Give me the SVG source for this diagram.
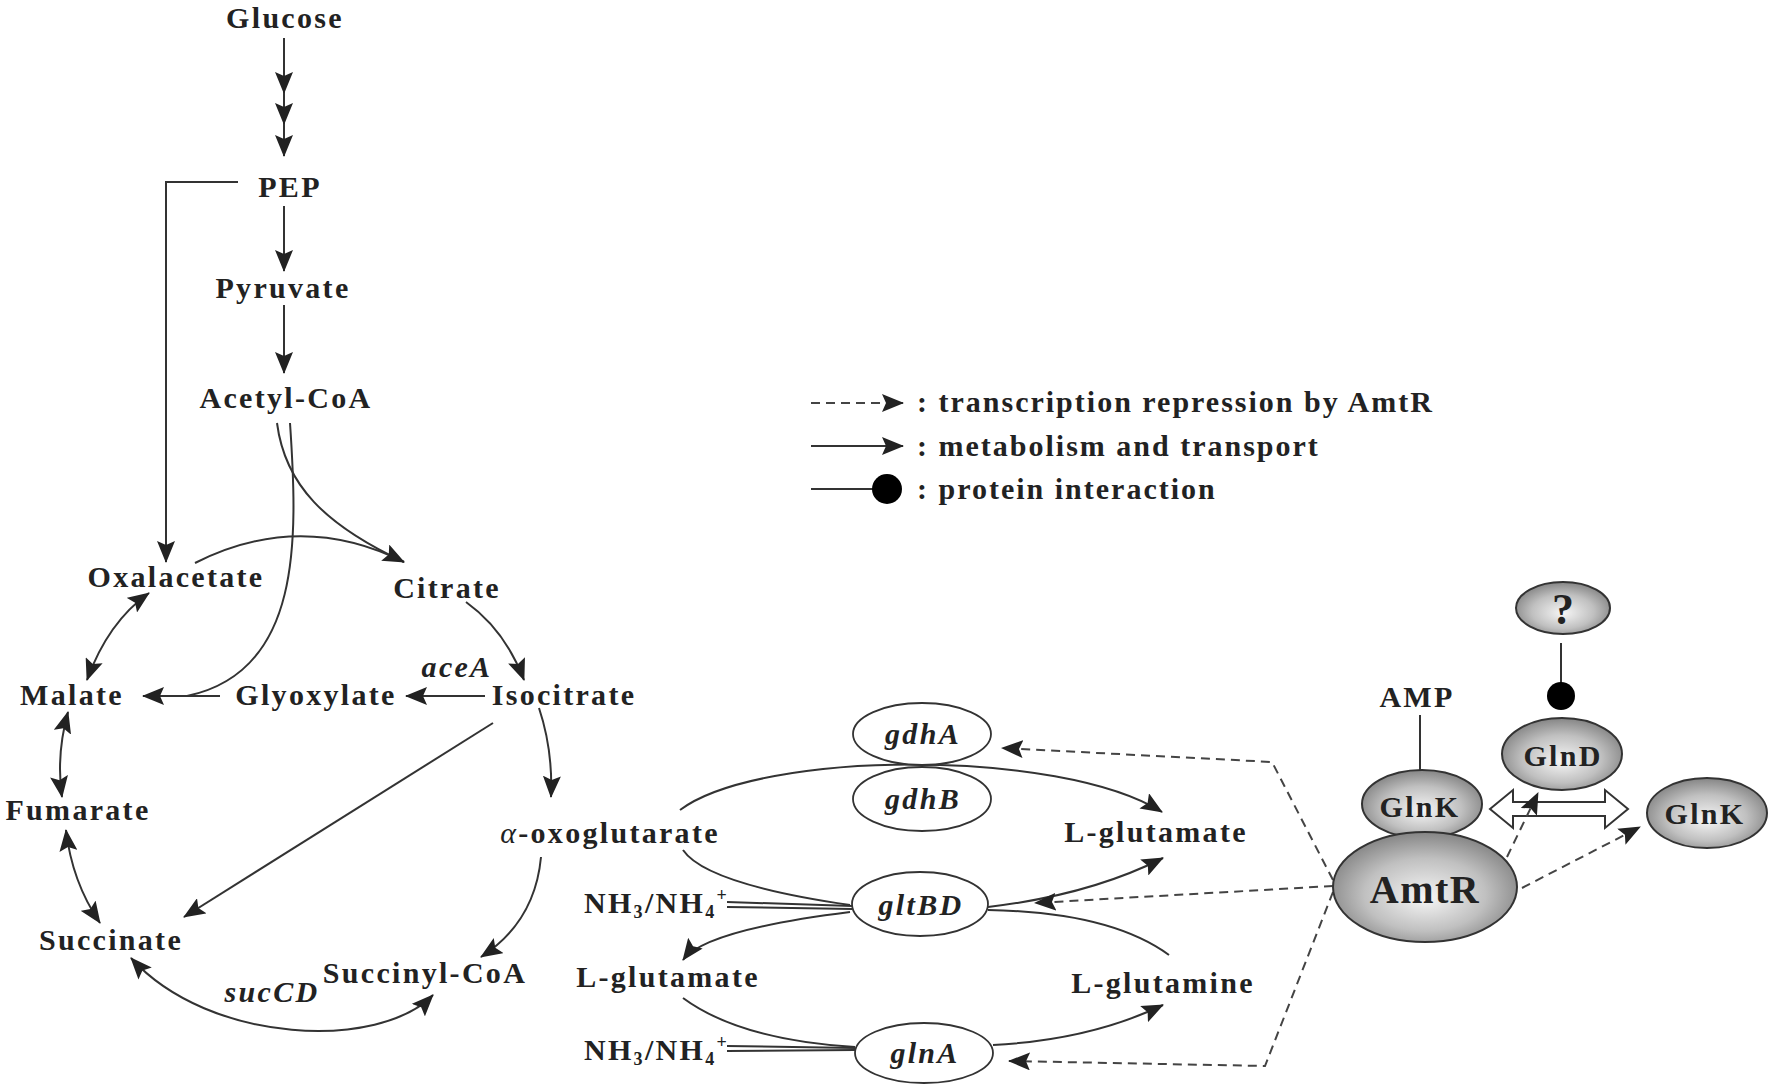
<svg xmlns="http://www.w3.org/2000/svg" width="1770" height="1090" viewBox="0 0 1770 1090">
<style>
.t{font-family:"Liberation Serif","Times New Roman",serif;font-weight:bold;font-size:30px;fill:#222;letter-spacing:2.3px;text-anchor:middle}
.i{font-style:italic}
.lg{font-family:"Liberation Serif","Times New Roman",serif;font-weight:bold;font-size:30px;fill:#222;letter-spacing:2px}
.c{fill:none;stroke:#333;stroke-width:2}
.a{marker-end:url(#ah)}
.b{marker-start:url(#ah);marker-end:url(#ah)}
.d{fill:none;stroke:#444;stroke-width:2;stroke-dasharray:9 6;marker-end:url(#ah)}
.g{fill:#fff;stroke:#333;stroke-width:1.8}
.p{fill:url(#pg);stroke:#333;stroke-width:2}
</style>
<defs>
<marker id="ah" viewBox="0 0 22 18" refX="21" refY="9" markerWidth="22" markerHeight="18" orient="auto-start-reverse" markerUnits="userSpaceOnUse">
<path d="M0,0 L22,9 L0,18 L4,9 z" fill="#222"/>
</marker>
<radialGradient id="pg" cx="50%" cy="55%" r="55%" fx="50%" fy="60%">
<stop offset="0" stop-color="#f6f6f6"/>
<stop offset="0.6" stop-color="#c0c0c0"/>
<stop offset="1" stop-color="#858585"/>
</radialGradient>
</defs>
<rect width="1770" height="1090" fill="#fff"/>

<g id="connectors">
<line class="c a" x1="284" y1="38" x2="284" y2="93"/>
<line class="c a" x1="284" y1="93" x2="284" y2="124"/>
<line class="c a" x1="284" y1="124" x2="284" y2="156"/>
<line class="c a" x1="284" y1="206" x2="284" y2="271"/>
<line class="c a" x1="284" y1="305" x2="284" y2="373"/>
<polyline class="c a" points="238,182 166,182 166,562"/>
<path class="c" d="M277 423 C285 485,325 525,404 562"/>
<path class="c a" d="M195 563 Q300 510 404 562"/>
<path class="c" d="M290 423 C298 540,302 672,187 696"/>
<line class="c a" x1="220" y1="696" x2="143" y2="696"/>
<line class="c a" x1="485" y1="696" x2="406" y2="696"/>
<path class="c a" d="M466 602 Q505 630 524 680"/>
<path class="c b" d="M149 593 Q108 622 87 680"/>
<path class="c b" d="M68 712 Q56 755 62 797"/>
<path class="c b" d="M66 830 Q72 882 100 923"/>
<line class="c a" x1="493" y1="723" x2="184" y2="917"/>
<path class="c a" d="M539 708 Q553 750 551 797"/>
<path class="c a" d="M541 857 Q535 922 481 957"/>
<path class="c b" d="M131 958 C210 1045,380 1050,433 995"/>

<path class="c a" d="M680 810 C760 750,1060 748,1162 812"/>
<path class="c" d="M683 850 Q706 884 850 905"/>
<line class="c" x1="727" y1="902" x2="852" y2="906"/>
<line class="c" x1="727" y1="907" x2="852" y2="909"/>
<path class="c a" d="M850 912 Q705 930 683 960"/>
<path class="c a" d="M988 907 Q1090 895 1163 858"/>
<path class="c" d="M1169 955 Q1110 912 988 910"/>
<path class="c" d="M683 998 Q740 1040 855 1047"/>
<line class="c" x1="727" y1="1046" x2="855" y2="1048"/>
<line class="c" x1="727" y1="1051" x2="855" y2="1050"/>
<path class="c a" d="M993 1045 Q1090 1040 1163 1005"/>

<polyline class="d" points="1333,880 1272,762 1002,748"/>
<line class="d" x1="1333" y1="886" x2="1035" y2="903"/>
<polyline class="d" points="1333,892 1265,1066 1009,1061"/>

<line class="c" x1="1420" y1="715" x2="1420" y2="771"/>
<line class="c" x1="1561" y1="643" x2="1561" y2="684"/>
</g>

<g id="legend">
<line class="d" x1="811" y1="403" x2="903" y2="403"/>
<line class="c a" x1="811" y1="446" x2="903" y2="446"/>
<line class="c" x1="811" y1="489" x2="875" y2="489"/>
<circle cx="887" cy="489" r="15" fill="#000"/>
<text class="lg" x="917" y="412">: transcription repression by AmtR</text>
<text class="lg" x="917" y="456">: metabolism and transport</text>
<text class="lg" x="917" y="499">: protein interaction</text>
</g>

<g id="n-glucose"><text class="t" x="285" y="28">Glucose</text></g>
<g id="n-pep"><text class="t" x="290" y="197">PEP</text></g>
<g id="n-pyruvate"><text class="t" x="283" y="298">Pyruvate</text></g>
<g id="n-acetylcoa"><text class="t" x="286" y="408">Acetyl-CoA</text></g>
<g id="n-oxalacetate"><text class="t" x="176" y="587">Oxalacetate</text></g>
<g id="n-citrate"><text class="t" x="447" y="598">Citrate</text></g>
<g id="n-malate"><text class="t" x="72" y="705">Malate</text></g>
<g id="n-glyoxylate"><text class="t" x="316" y="705">Glyoxylate</text></g>
<g id="n-isocitrate"><text class="t" x="564" y="705">Isocitrate</text></g>
<g id="n-acea"><text class="t i" x="457" y="677">aceA</text></g>
<g id="n-fumarate"><text class="t" x="78" y="820">Fumarate</text></g>
<g id="n-oxoglutarate"><text class="t" x="610" y="843"><tspan font-style="italic" font-weight="normal">α</tspan>-oxoglutarate</text></g>
<g id="n-succinate"><text class="t" x="111" y="950">Succinate</text></g>
<g id="n-succinylcoa"><text class="t" x="425" y="983">Succinyl-CoA</text></g>
<g id="n-succd"><text class="t i" x="272" y="1002">sucCD</text></g>

<g id="n-lglutamate1"><text class="t" x="1156" y="842">L-glutamate</text></g>
<g id="n-lglutamate2"><text class="t" x="668" y="987">L-glutamate</text></g>
<g id="n-lglutamine"><text class="t" x="1163" y="993">L-glutamine</text></g>
<g id="n-nh1"><text class="t" x="584" y="913" style="text-anchor:start">NH<tspan font-size="18" dy="5">3</tspan><tspan dy="-5">/NH</tspan><tspan font-size="18" dy="5">4</tspan><tspan font-size="18" dy="-17">+</tspan></text></g>
<g id="n-nh2"><text class="t" x="584" y="1060" style="text-anchor:start">NH<tspan font-size="18" dy="5">3</tspan><tspan dy="-5">/NH</tspan><tspan font-size="18" dy="5">4</tspan><tspan font-size="18" dy="-17">+</tspan></text></g>

<g id="n-gdha"><ellipse class="g" cx="922" cy="734" rx="69" ry="31"/><text class="t i" x="923" y="744">gdhA</text></g>
<g id="n-gdhb"><ellipse class="g" cx="922" cy="799" rx="69" ry="32"/><text class="t i" x="923" y="809">gdhB</text></g>
<g id="n-gltbd"><ellipse class="g" cx="920" cy="904" rx="68" ry="32"/><text class="t i" x="921" y="915">gltBD</text></g>
<g id="n-glna"><ellipse class="g" cx="924" cy="1053" rx="69" ry="30"/><text class="t i" x="925" y="1063">glnA</text></g>

<g id="n-amp"><text class="t" x="1417" y="707">AMP</text></g>
<g id="n-glnk1"><ellipse class="p" cx="1422" cy="804" rx="60" ry="34"/><text class="t" x="1420" y="817">GlnK</text></g>
<g id="n-amtr"><ellipse class="p" cx="1425" cy="887" rx="92" ry="55"/><text class="t" x="1425" y="903" style="font-size:40px;letter-spacing:1.5px">AmtR</text></g>
<g id="n-glnd"><ellipse class="p" cx="1562" cy="754" rx="60" ry="36"/><text class="t" x="1563" y="766">GlnD</text></g>
<g id="n-glnk2"><ellipse class="p" cx="1707" cy="813" rx="60" ry="35"/><text class="t" x="1705" y="824">GlnK</text></g>
<g id="n-unknown"><ellipse class="p" cx="1563" cy="608" rx="47" ry="26"/><text class="t" x="1563" y="624" style="font-size:44px;letter-spacing:0">?</text></g>
<g id="n-dot"><circle cx="1561" cy="696" r="14" fill="#000"/></g>

<g id="exchange">
<polygon points="1490,809 1513,790 1513,802 1605,802 1605,790 1628,809 1605,828 1605,816 1513,816 1513,828" fill="#fff" stroke="#333" stroke-width="2"/>
<line class="d" x1="1507" y1="857" x2="1538" y2="793"/>
<line class="d" x1="1522" y1="888" x2="1640" y2="827"/>
</g>
</svg>
